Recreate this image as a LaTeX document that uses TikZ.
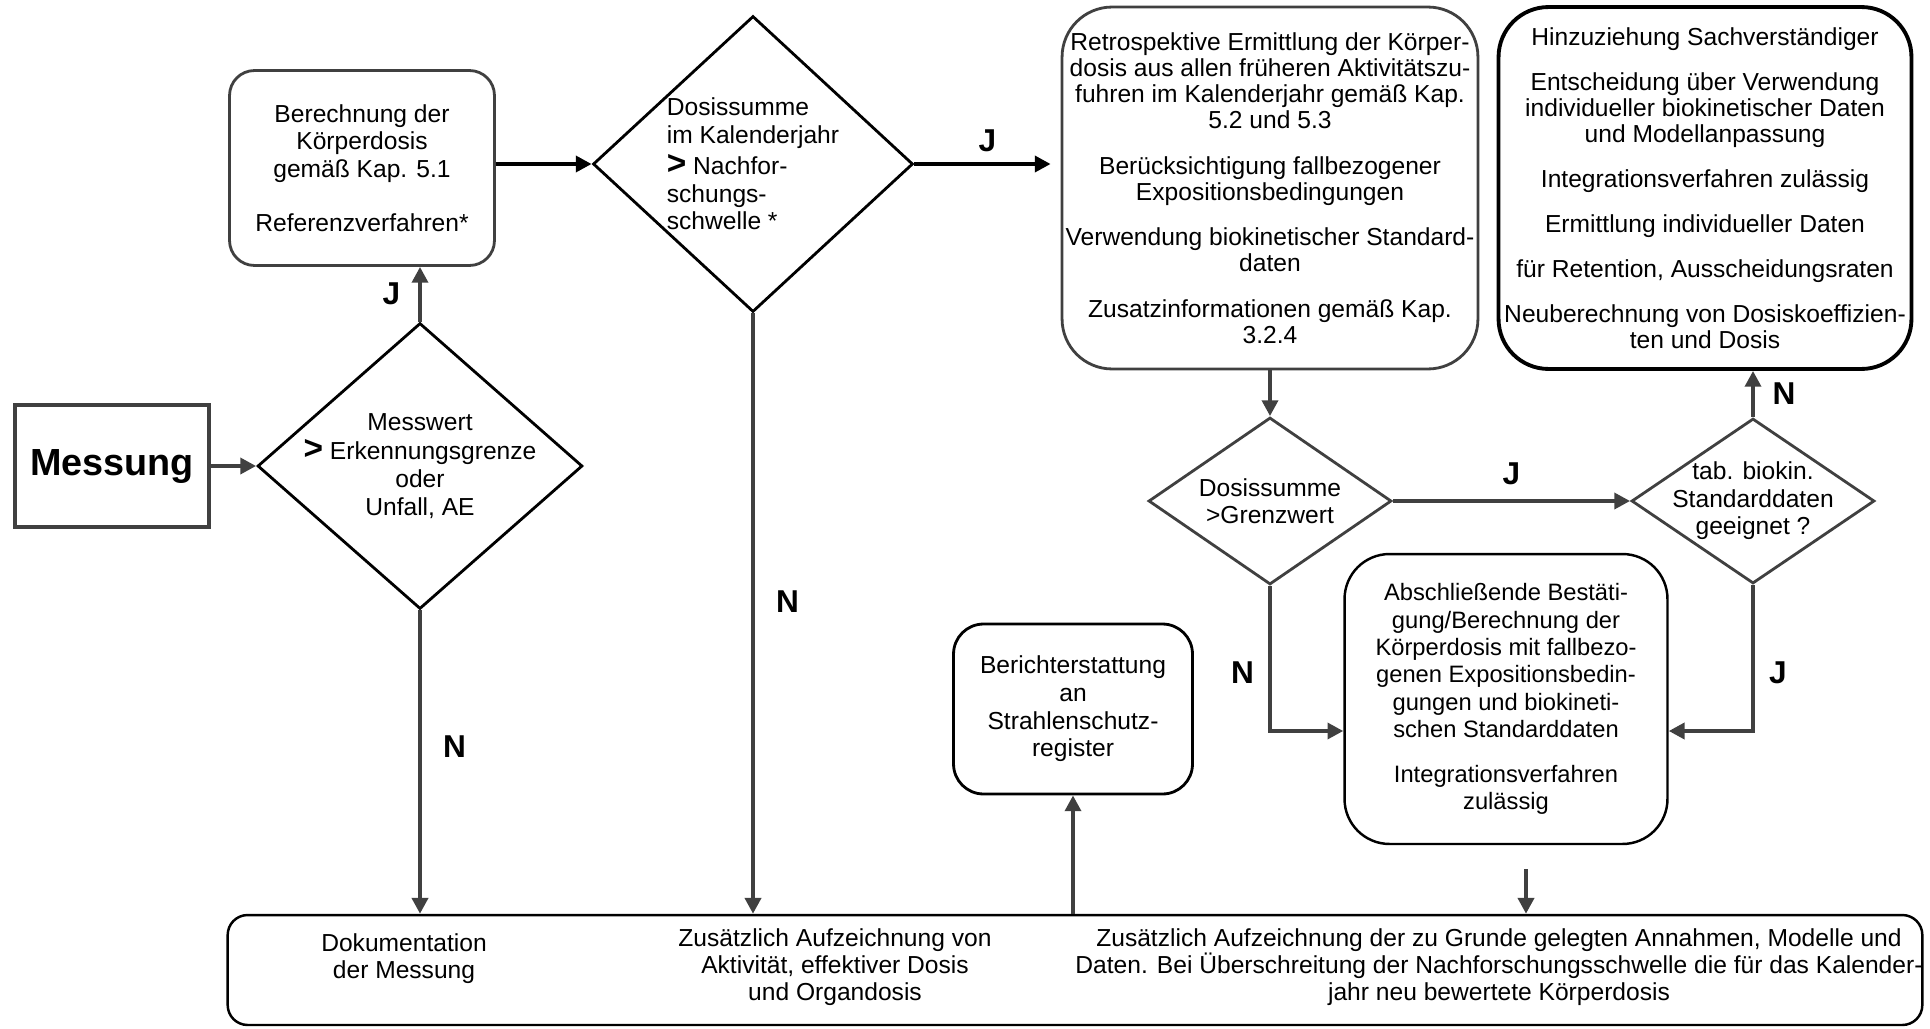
\documentclass[tikz,border=0pt]{standalone}
\usepackage{fontspec}
\setmainfont{Liberation Sans}
\usepackage{tikz}
\usetikzlibrary{positioning,shapes,arrows.meta}
\definecolor{darkline}{RGB}{64,64,64}

\begin{document}
\begin{tikzpicture}[
    x=0.02cm, y=-0.02cm,
    every node/.style={font=\fontsize{14}{15.7}\selectfont, align=center, inner sep=2pt},
    rbox/.style={draw, rounded corners=0.5cm, line width=1.6pt},
    decision/.style={draw, diamond, line width=1.6pt, inner sep=0pt},
    smalltext/.style={font=\fontsize{14}{14.8}\selectfont},
    arrow/.style={-{Triangle[length=9pt,width=9pt]}, line width=2.4pt, color=darkline},
    tag/.style={font=\fontsize{18}{20}\bfseries\selectfont, text=black}
]
    \useasboundingbox (0,0) rectangle (1930,1028);

    % left part
    \node[draw=darkline, line width=1.8pt, minimum width=3.88cm, minimum height=2.44cm,
          font=\fontsize{21.5}{24}\bfseries\selectfont] (messung) at (112,466) {Messung};
    \node[decision, aspect=1.14, inner sep=-8pt, minimum width=6.5cm, minimum height=5.72cm] (messwert) at (420,466)
        {Messwert\\[1pt]{\fontsize{19}{19}\bfseries\selectfont >} Erkennungsgrenze\\oder\\Unfall, AE};
    \node[rbox, draw=darkline, minimum width=5.3cm, minimum height=3.9cm] (berechnung) at (362,168)
        {Berechnung der\\Körperdosis\\gemäß Kap. 5.1\\[15pt]Referenzverfahren*};
    \node[decision, draw=black, inner sep=-6pt, minimum width=6.4cm, minimum height=5.92cm, align=left] (summe) at (753,164)
        {Dosissumme\\im Kalenderjahr\\[2pt]{\fontsize{19}{19}\bfseries\selectfont >} Nachfor-\\schungs-\\schwelle *};

    % right part
    \node[rbox, smalltext, rounded corners=1cm, draw=darkline, minimum width=8.22cm, minimum height=7.24cm] (retro) at (1270,188)
        {Retrospektive Ermittlung der Körper-\\dosis aus allen früheren Aktivitätszu-\\fuhren im Kalenderjahr gemäß Kap.\\5.2 und 5.3\\[0.39cm]
         Berücksichtigung fallbezogener\\Expositionsbedingungen\\[0.39cm]
         Verwendung biokinetischer Standard-\\daten\\[0.39cm]
         Zusatzinformationen gemäß Kap.\\3.2.4};
    \node[rbox, smalltext, rounded corners=1cm, draw=black, line width=2.2pt, minimum width=8.26cm, minimum height=7.24cm] (experten) at (1705,188)
        {Hinzuziehung Sachverständiger\\[0.38cm]
         Entscheidung über Verwendung\\individueller biokinetischer Daten\\und Modellanpassung\\[0.38cm]
         Integrationsverfahren zulässig\\[0.38cm]
         Ermittlung individueller Daten\\[0.38cm]
         für Retention, Ausscheidungsraten\\[0.38cm]
         Neuberechnung von Dosiskoeffizien-\\ten und Dosis};
    \node[decision, draw=darkline, aspect=1.45, minimum width=4.86cm, minimum height=3.34cm] (grenzwert) at (1270,501)
        {Dosissumme\\>Grenzwert};
    \node[decision, draw=darkline, aspect=1.45, inner sep=-6pt, minimum width=4.86cm, minimum height=3.3cm] (tab) at (1753,501)
        {tab. biokin.\\Standarddaten\\geeignet ?};
    \node[rbox, font=\fontsize{13.5}{15.6}\selectfont, rounded corners=0.9cm, draw=black, line width=1.4pt,
          minimum width=6.46cm, minimum height=5.8cm] (abschluss) at (1506,699)
        {Abschließende Bestäti-\\gung/Berechnung der\\Körperdosis mit fallbezo-\\genen Expositionsbedin-\\gungen und biokineti-\\schen Standarddaten\\[0.34cm]
         Integrationsverfahren\\zulässig};
    \node[rbox, rounded corners=0.6cm, draw=black, line width=1.6pt, minimum width=4.78cm, minimum height=3.4cm] (bericht) at (1073,709)
        {Berichterstattung\\an\\Strahlenschutz-\\register};

    % bottom
    \node[rbox, rounded corners=0.4cm, draw=black, line width=1.4pt, minimum width=33.9cm, minimum height=2.2cm] (doku) at (1075,970) {};
    \node[font=\fontsize{14}{15.4}\selectfont] (dokutext) at (404,959) {Dokumentation\\der Messung};
    \node[font=\fontsize{14}{15.4}\selectfont] (aktivitaet) at (835,967) {Zusätzlich Aufzeichnung von\\Aktivität, effektiver Dosis\\und Organdosis};
    \node[font=\fontsize{14}{15.4}\selectfont] (annahmen) at (1499,967) {Zusätzlich Aufzeichnung der zu Grunde gelegten Annahmen, Modelle und\\Daten. Bei Überschreitung der Nachforschungsschwelle die für das Kalender-\\jahr neu bewertete Körperdosis};
    \coordinate (abschlussout) at (1526,869);

    % connectors
    \draw[arrow] (messung) -- (messwert);
    \draw[arrow] (messwert.north) -- node[tag, left=8pt] {J} (messwert.north |- berechnung.south);
    \draw[arrow, color=black] (berechnung.east |- summe.west) -- (summe.west);
    \draw[arrow, color=black, shorten >=0.2cm] (summe.east) -- node[tag, above=4pt] {J} (summe.east -| retro.west);
    \draw[arrow] (summe.south) -- node[tag, right=10pt, pos=0.48] {N} (summe.south |- doku.north);
    \draw[arrow] (messwert.south) -- node[tag, right=10pt, pos=0.45] {N} (messwert.south |- doku.north);
    \draw[arrow] (retro.south) -- (grenzwert.north);
    \draw[arrow] (grenzwert.east) -- node[tag, above=6pt] {J} (tab.west);
    \draw[arrow] (grenzwert.south) |- node[tag, left=6pt, pos=0.3] {N} ([yshift=-0.64cm]abschluss.west);
    \draw[arrow] (tab.south) |- node[tag, right=6pt, pos=0.3] {J} ([yshift=-0.64cm]abschluss.east);
    \draw[arrow] (tab.north) -- node[tag, right=8pt] {N} (tab.north |- experten.south);
    \draw[arrow] (doku.north -| bericht.south) -- (bericht.south);
    \draw[arrow] (abschlussout) -- (abschlussout |- doku.north);
\end{tikzpicture}
\end{document}
